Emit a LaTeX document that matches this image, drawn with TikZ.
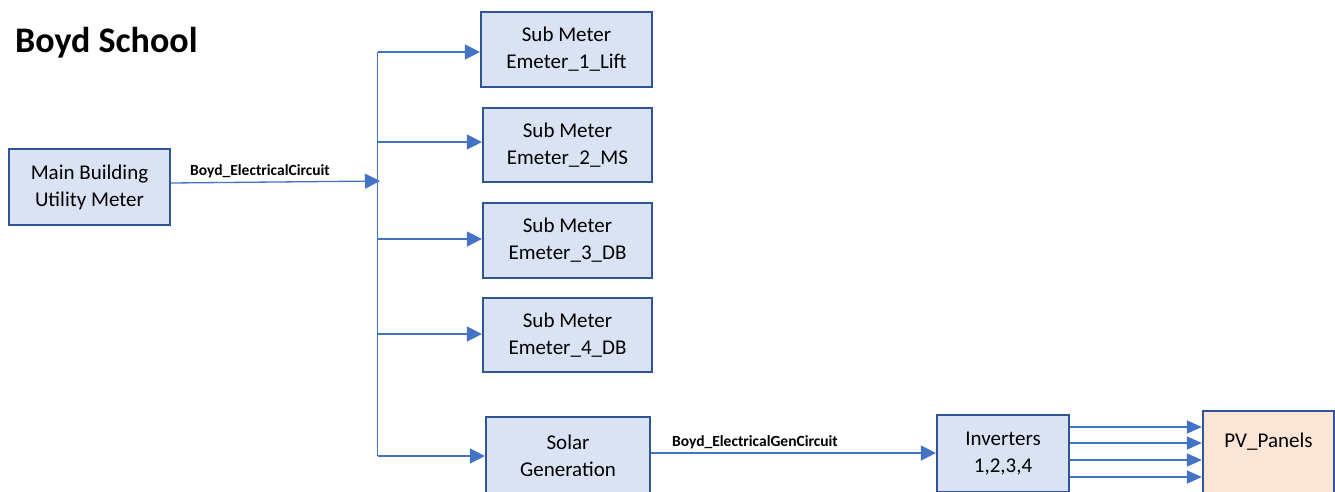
\documentclass[tikz,border=0pt]{standalone}
\usepackage{fontspec}
\setmainfont{Carlito}
\usetikzlibrary{arrows.meta}
\definecolor{boxfill}{HTML}{DAE3F3}
\definecolor{boxline}{HTML}{2F5597}
\definecolor{wire}{HTML}{4472C4}
\definecolor{pvfill}{HTML}{FBE5D6}
\begin{document}
\begin{tikzpicture}[x=1pt,y=-1pt,
  meter/.style={draw=boxline, fill=boxfill, line width=2.2pt, align=center,
    inner sep=0pt, font=\fontsize{21}{27}\selectfont},
  boxtext/.style={inner sep=0pt, font=\fontsize{21}{27}\selectfont},
  wireline/.style={draw=wire, line width=1.3pt},
  feed/.style={wireline, -{Triangle[length=15pt,width=15pt]}},
  smallfeed/.style={wireline, -{Triangle[length=15pt,width=13pt]}},
  wirelabel/.style={font=\bfseries\fontsize{15.5}{18}\selectfont, inner sep=0pt, anchor=base west},
  title/.style={font=\bfseries\fontsize{36}{40}\selectfont, inner sep=0pt, anchor=base west}]
\useasboundingbox (0,0) rectangle (1335,491);
\clip (0,0) rectangle (1335,491);

% title
\node[title] (title) at (15,52) {Boyd School};

% meters
\node[meter, minimum width=161pt, minimum height=76pt] (main) at (89.5,187) {Main Building\\Utility Meter};
\node[meter, minimum width=171pt, minimum height=75pt] (sub1) at (566.5,49.5) {Sub Meter\\Emeter\_1\_Lift};
\node[meter, minimum width=169pt, minimum height=74pt] (sub2) at (567.5,145) {Sub Meter\\Emeter\_2\_MS};
\node[meter, minimum width=169pt, minimum height=75pt] (sub3) at (567.5,240.5) {Sub Meter\\Emeter\_3\_DB};
\node[meter, minimum width=169pt, minimum height=74pt] (sub4) at (567.5,335) {Sub Meter\\Emeter\_4\_DB};
\node[meter, minimum width=164pt, minimum height=77pt] (solar) at (568,455.5) {Solar\\Generation};
\node[meter, minimum width=132pt, minimum height=77pt] (inv) at (1003,453.5) {Inverters\\1,2,3,4};
\node[meter, fill=pvfill, minimum width=131pt, minimum height=89pt] (pv) at (1268.5,455.5) {};
\node[boxtext] (pvtext) at (1268.5,442) {PV\_Panels};

% distribution bus
\coordinate (busTop) at (377.5,52);
\coordinate (busBot) at (377.5,456);
\coordinate (mainout) at (main.east |- 0,183);
\coordinate (tap) at (380,181);
\draw[feed] (mainout) -- (tap);
\node[wirelabel] (lblmain) at (190,175.5) {Boyd\_ElectricalCircuit};
\draw[wireline] (busTop) -- (busBot);

\foreach \tgt/\yy in {sub1/52, sub2/142, sub3/239, sub4/334, solar/456}
  \draw[feed] (busTop |- 0,\yy) -- (\tgt.west |- 0,\yy);

% generation side
\draw[feed] (solar.east |- 0,453) -- (inv.west |- 0,453);
\node[wirelabel] (lblgen) at (672,446) {Boyd\_ElectricalGenCircuit};

\foreach \yy in {427,443,460,477}
  \draw[smallfeed] (inv.east |- 0,\yy) -- (pv.west |- 0,\yy);
\end{tikzpicture}
\end{document}
